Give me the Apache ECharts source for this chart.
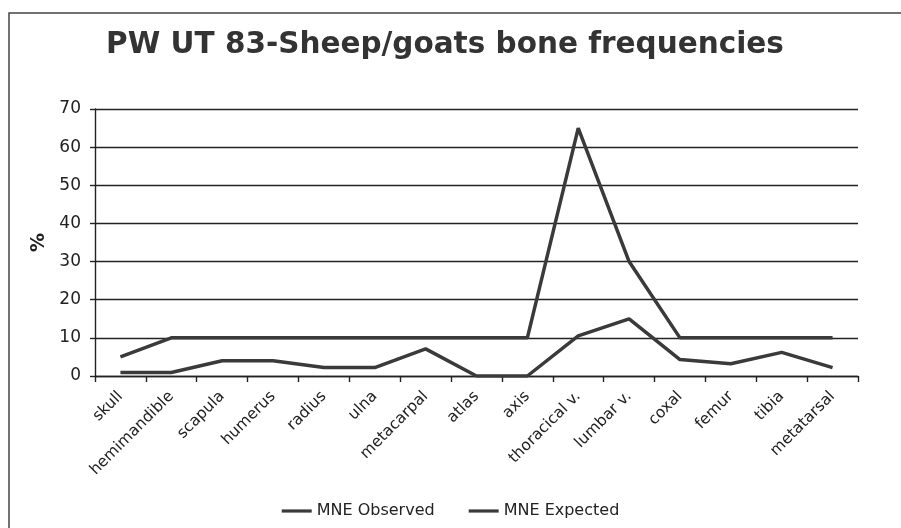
<!DOCTYPE html>
<html>
<head>
<meta charset="utf-8">
<script src="https://cdn.jsdelivr.net/npm/echarts@6/dist/echarts.min.js"></script>
<style>
  html, body { margin: 0; padding: 0; background: #fff; }
  #chart { width: 901px; height: 528px; }
</style>
</head>
<body>
<div id="chart"></div>
<script>
// Skeletal elements along the x axis
const categories = ['skull', 'hemimandible', 'scapula', 'humerus', 'radius', 'ulna', 'metacarpal',
  'atlas', 'axis', 'thoracical v.', 'lumbar v.', 'coxal', 'femur', 'tibia', 'metatarsal'];

// Percentages per element
const mneObserved = [0.9, 0.9, 4, 4, 2.2, 2.2, 7.1, 0, 0, 10.5, 15, 4.3, 3.2, 6.2, 2.2];
const mneExpected = [5, 10, 10, 10, 10, 10, 10, 10, 10, 65, 30, 10, 10, 10, 10];

const yTicks = { min: 0, max: 70, interval: 10 };

const font = 'DejaVu Sans, Verdana, sans-serif';
const ink = '#3a3a3a';

const chart = echarts.init(document.getElementById('chart'), null, { renderer: 'canvas' });

chart.setOption({
  backgroundColor: '#ffffff',
  animation: false,
  graphic: [{
    type: 'rect',
    shape: { x: 9, y: 13, width: 920, height: 540 },
    style: { fill: 'none', stroke: '#444', lineWidth: 1.5 },
    silent: true
  }],
  title: {
    text: 'PW UT 83-Sheep/goats bone frequencies',
    left: 440,
    textAlign: 'center',
    top: 25,
    textStyle: { fontFamily: font, fontSize: 29.5, fontWeight: 'bold', color: '#333' }
  },
  legend: {
    bottom: 4,
    left: 'center',
    itemGap: 34,
    itemWidth: 30,
    itemHeight: 10,
    icon: 'path://M0,3.4 L30,3.4 L30,6.6 L0,6.6 Z',
    textStyle: { fontFamily: font, fontSize: 16, color: '#222' },
    data: ['MNE Observed', 'MNE Expected']
  },
  grid: { left: 95, right: 43, top: 109, bottom: 152, containLabel: false },
  xAxis: {
    type: 'category',
    data: categories,
    boundaryGap: true,
    axisLine: { lineStyle: { color: '#222', width: 1.4 } },
    axisTick: { show: true, length: 6, alignWithLabel: false, lineStyle: { color: '#222', width: 1.4 } },
    axisLabel: {
      interval: 0, rotate: 45, margin: 18,
      fontFamily: font, fontSize: 15.5, color: '#222'
    },
    splitLine: { show: false }
  },
  yAxis: {
    type: 'value',
    min: yTicks.min,
    max: yTicks.max,
    interval: yTicks.interval,
    name: '%',
    nameLocation: 'middle',
    nameGap: 45,
    nameRotate: 90,
    nameTextStyle: { fontFamily: font, fontSize: 19, fontWeight: 'bold', color: '#222' },
    axisLine: { show: true, lineStyle: { color: '#222', width: 1.4 } },
    axisTick: { show: true, length: 5, lineStyle: { color: '#222', width: 1.4 } },
    axisLabel: { fontFamily: font, fontSize: 17, color: '#222', margin: 14 },
    splitLine: { show: true, lineStyle: { color: '#222', width: 1.4 } }
  },
  series: [
    {
      name: 'MNE Observed',
      type: 'line',
      data: mneObserved,
      symbol: 'none',
      lineStyle: { color: ink, width: 3.5 },
      itemStyle: { color: ink }
    },
    {
      name: 'MNE Expected',
      type: 'line',
      data: mneExpected,
      symbol: 'none',
      lineStyle: { color: ink, width: 3.5 },
      itemStyle: { color: ink }
    }
  ]
});
</script>
</body>
</html>
